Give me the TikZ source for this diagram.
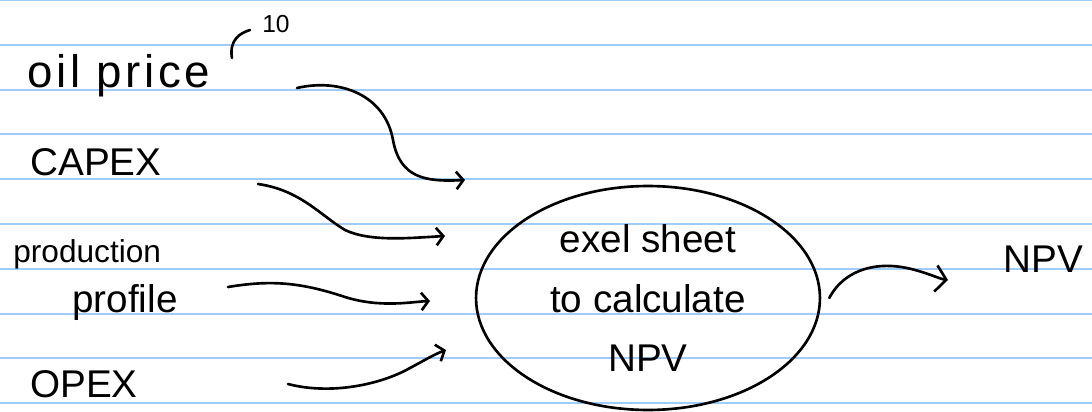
\documentclass[tikz,border=0pt]{standalone}
\usepackage{fontspec}
\setmainfont{Liberation Sans}
\usetikzlibrary{arrows.meta,shapes.geometric}
\definecolor{ruled}{RGB}{160,204,248}

\begin{document}
\begin{tikzpicture}[x=0.02cm, y=-0.02cm,
		paperline/.style={line width=1.1pt, color=ruled},
		pen/.style={line width=1.5pt, line cap=round, line join=round},
		inarrow/.style={pen, -{Straight Barb[length=4pt, width=10pt]}},
		outarrow/.style={pen, -{Straight Barb[length=6pt, width=15pt]}},
		hand/.style={inner sep=0pt, anchor=base west, font=\fontsize{22}{26}\selectfont},
		calc_box/.style={
			draw,
			ellipse,
			line width=1.5pt,
			minimum width=6.88cm,
			minimum height=4.48cm,
			inner sep=0pt,
			align=center,
			font=\fontsize{22}{34}\selectfont
		}
		]
		
		% --- Paper ---
		\fill[white] (0,0) rectangle (1092,412);
		\useasboundingbox (0,0) rectangle (1092,412);
		\foreach \k in {0,...,9}
			\draw[paperline] (0,44.8*\k) -- (1092,44.8*\k);
		
		% --- Inputs ---
		\node[hand, font=\fontsize{26}{30}\selectfont\addfontfeature{LetterSpace=8}] (oil) at (27,88) {oil price};
		\node[hand, anchor=center, font=\fontsize{14}{16}\selectfont] (ten) at (276,24) {10};
		\node[hand] (capex) at (30,175) {CAPEX};
		\node[hand, font=\fontsize{18}{22}\selectfont] (prod) at (13,262) {production};
		\node[hand] (profile) at (72,312) {profile};
		\node[hand] (opex) at (30,397) {OPEX};
		
		% --- Calculation and output ---
		\node[calc_box] (excel) at (648,298) {exel sheet\\to calculate\\NPV};
		\node[hand] (npv) at (1003,272) {NPV};
		
		% --- Arrow ends ---
		\coordinate (oil_t) at (297,88);
		\coordinate (capex_t) at (258,184);
		\coordinate (profile_t) at (228,287);
		\coordinate (opex_t) at (288,384);
		\coordinate (oil_h) at (465,180);
		\coordinate (capex_h) at (445,236);
		\coordinate (profile_h) at (430,301);
		\coordinate (opex_h) at (446,350);
		\coordinate (npv_h) at (948,280);
		
		% --- Input arrows ---
		\draw[pen] (ten.west) ++(-30,34) .. controls +(-3,-18) and +(-10,3) .. ++(18,-28);
		\draw[inarrow] (oil_t) .. controls (340,78) and (385,95) .. (393,140)
			.. controls (400,178) and (425,182) .. (oil_h);
		\draw[inarrow] (capex_t) .. controls (300,190) and (320,215) .. (345,230)
			.. controls (370,242) and (410,238) .. (capex_h);
		\draw[inarrow] (profile_t) .. controls (270,280) and (300,282) .. (345,297)
			.. controls (380,308) and (410,302) .. (profile_h);
		\draw[inarrow] (opex_t) .. controls (330,395) and (380,385) .. (410,368)
			.. controls (425,360) and (435,354) .. (opex_h);
		
		% --- Output ---
		\draw[outarrow] ([xshift=0.16cm]excel.east) .. controls (845,268) and (880,260) .. (915,270)
			.. controls (930,274) and (940,279) .. (npv_h);
		
\end{tikzpicture}
\end{document}
